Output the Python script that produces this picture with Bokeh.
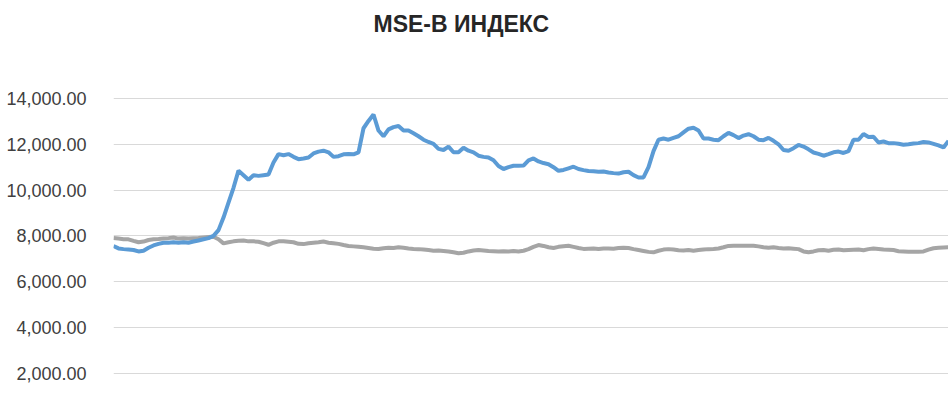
from bokeh.plotting import figure
from bokeh.models import Range1d, FixedTicker, NumeralTickFormatter, Label
from bokeh.embed import file_html
from bokeh.resources import INLINE

title_text = "MSE-B ИНДЕКС"
y_ticks = [2000, 4000, 6000, 8000, 10000, 12000, 14000]

mse_b = [
    7550, 7450, 7420, 7400, 7380, 7320, 7350, 7480, 7580, 7650,
    7700, 7700, 7720, 7700, 7720, 7700, 7750, 7800, 7850, 7900,
    8000, 8250, 8800, 9450, 10100, 10850, 10650, 10450, 10650, 10620,
    10650, 10680, 11200, 11570, 11520, 11570, 11450, 11350, 11380, 11420,
    11600, 11680, 11720, 11650, 11450, 11480, 11560, 11570, 11560, 11650,
    12700, 13020, 13300, 12600, 12350, 12650, 12750, 12800, 12600, 12600,
    12480, 12350, 12200, 12100, 12020, 11800, 11750, 11900, 11650, 11650,
    11850, 11720, 11650, 11500, 11450, 11420, 11300, 11050, 10920, 11000,
    11060, 11060, 11070, 11300, 11380, 11250, 11180, 11130, 11000, 10840,
    10880, 10950, 11020, 10920, 10870, 10830, 10820, 10800, 10810, 10770,
    10740, 10720, 10780, 10800, 10650, 10550, 10550, 11000, 11700, 12200,
    12250, 12200, 12280, 12350, 12520, 12680, 12720, 12600, 12250, 12250,
    12200, 12180, 12350, 12500, 12400, 12270, 12380, 12440, 12350, 12200,
    12180, 12280, 12150, 12000, 11750, 11720, 11830, 11970, 11900, 11780,
    11640, 11580, 11500, 11570, 11650, 11680, 11620, 11700, 12200, 12200,
    12450, 12320, 12330, 12080, 12120, 12050, 12050, 12020, 11980, 12000,
    12030, 12050, 12100, 12080, 12020, 11950, 11860, 12150,
]

benchmark = [
    7910, 7880, 7850, 7850, 7780, 7720, 7750, 7820, 7850, 7860,
    7880, 7900, 7930, 7880, 7900, 7880, 7900, 7910, 7930, 7950,
    7960, 7850, 7670, 7720, 7760, 7790, 7800, 7760, 7760, 7740,
    7680, 7610, 7700, 7760, 7760, 7740, 7720, 7650, 7640, 7680,
    7700, 7720, 7750, 7700, 7680, 7650, 7600, 7560, 7540, 7520,
    7500, 7470, 7440, 7425, 7460, 7480, 7470, 7500, 7480, 7450,
    7430, 7420, 7400, 7380, 7350, 7360, 7340, 7320, 7280, 7240,
    7260, 7320, 7360, 7380, 7360, 7340, 7330, 7320, 7330, 7320,
    7340, 7320, 7350, 7420, 7520, 7600, 7560, 7500, 7470, 7520,
    7550, 7570, 7520, 7470, 7430, 7440, 7450, 7430, 7450, 7450,
    7440, 7470, 7480, 7470, 7420, 7380, 7340, 7300, 7280, 7350,
    7400, 7420, 7400, 7370, 7360, 7380, 7350, 7380, 7400, 7420,
    7430, 7450, 7500, 7560, 7570, 7570, 7570, 7570, 7570, 7540,
    7500, 7480, 7500, 7470, 7450, 7460, 7440, 7420, 7320, 7280,
    7320, 7370, 7380, 7350, 7390, 7400, 7370, 7380, 7390, 7400,
    7370, 7420, 7450, 7430, 7400, 7390, 7380, 7330, 7320, 7310,
    7310, 7310, 7320, 7400, 7460, 7480, 7490, 7500,
]

xs_b = list(range(len(mse_b)))
xs_g = list(range(len(benchmark)))

p = figure(
    width=948, height=415,
    output_backend="svg", toolbar_location=None,
    x_axis_location=None,
    x_range=Range1d(0, 167),
    y_range=Range1d(153, 18280),
    min_border_left=113, min_border_right=0,
    min_border_top=0, min_border_bottom=0,
)
p.outline_line_color = None
p.background_fill_color = "white"
p.border_fill_color = "white"

title = Label(
    x=260, y=392, x_units="screen", y_units="screen",
    text=title_text, text_font="Liberation Sans", text_font_size="23px",
    text_font_style="bold", text_color="#262626",
    text_align="left", text_baseline="middle",
)
p.add_layout(title)

p.xgrid.visible = False
p.ygrid.grid_line_color = "#d9d9d9"
p.ygrid.grid_line_width = 1

ax = p.yaxis[0]
ax.ticker = FixedTicker(ticks=y_ticks)
ax.formatter = NumeralTickFormatter(format="0,0.00")
ax.axis_line_color = None
ax.major_tick_line_color = None
ax.minor_tick_line_color = None
ax.major_label_standoff = 21
ax.major_label_text_font = "Liberation Sans"
ax.major_label_text_font_size = "18px"
ax.major_label_text_color = "#404040"

p.line(xs_g, benchmark, line_color="#a5a5a5", line_width=4)
p.line(xs_b, mse_b, line_color="#5b9bd5", line_width=4)

open("out.html", "w").write(file_html(p, INLINE))
